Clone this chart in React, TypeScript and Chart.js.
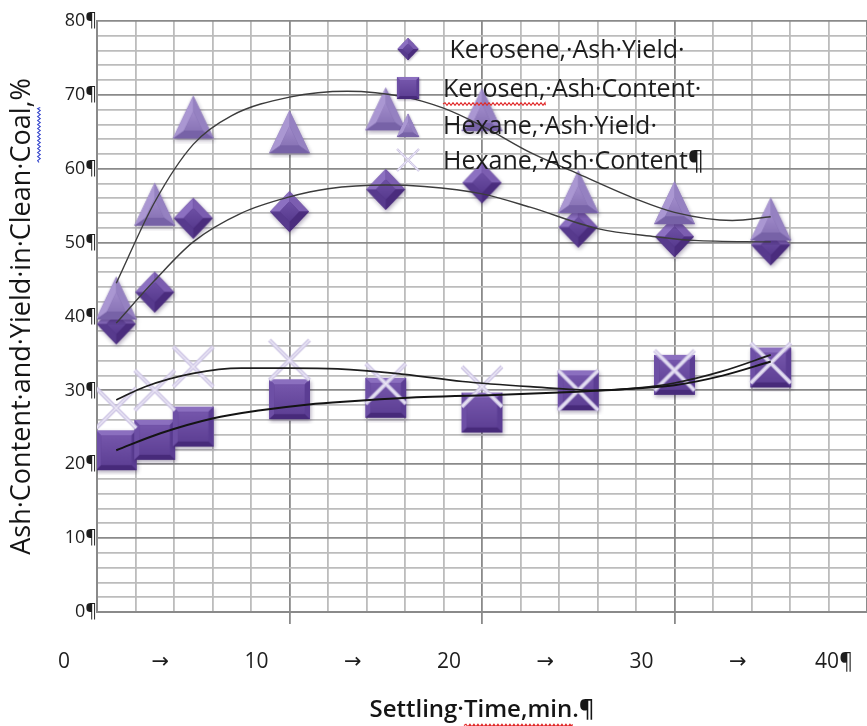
import React, { useEffect, useRef } from 'react';
import { Chart, registerables } from 'chart.js';

Chart.register(...registerables);

// ---- data ----
const settlingTime = [1, 3, 5, 10, 15, 20, 25, 30, 35];
const keroseneAshYield = [39, 43.3, 53.3, 54.2, 57.2, 58.1, 52.1, 50.8, 49.7];
const kerosenAshContent = [21.9, 23.3, 25.1, 28.8, 29, 27, 30, 32.1, 33.1];
const hexaneAshYield = [42.5, 55.2, 67, 65, 68.1, 68, 56.9, 55.4, 53.2];
const hexaneAshContent = [27.6, 30, 33.2, 34.1, 30.9, 30.5, 30, 32.7, 33.7];

// trend lines
const keroseneYieldTrendX = [1, 3, 5, 7.5, 10, 12, 15, 17, 20, 22.5, 26, 29, 31, 35];
const keroseneYieldTrendY = [39.1, 44.9, 50.1, 54, 56.2, 57.3, 57.8, 57.6, 56.6, 54.8, 51.9, 50.8, 50.3, 50.1];
const hexaneYieldTrendX = [1, 3, 5, 7, 10, 13, 16, 18, 20, 22.5, 25, 28, 30, 33, 35];
const hexaneYieldTrendY = [44.5, 55.5, 63.3, 67.2, 69.7, 70.5, 69.7, 68.2, 65.8, 62.2, 59.3, 55.9, 54.1, 53, 53.5];
const hexaneContentTrendX = [1, 2.5, 5, 7.5, 10, 12.5, 15.5, 19, 22.5, 26, 28, 30, 32.5, 35];
const hexaneContentTrendY = [28.7, 30.5, 32.3, 33, 33, 32.9, 32.3, 31.2, 30.5, 30, 30.3, 31, 32.6, 34.8];
const kerosenContentTrendX = [1, 3.3, 6, 8.5, 11, 13, 17, 21, 24, 27.5, 30, 32.5, 35];
const kerosenContentTrendY = [21.9, 24.2, 26.2, 27.3, 28.1, 28.5, 29.1, 29.4, 29.7, 30.2, 30.7, 32, 33.9];

const seriesLabels = [
  ' Kerosene,·Ash·Yield·',
  'Kerosen,·Ash·Content·',
  'Hexane,·Ash·Yield·',
  'Hexane,·Ash·Content¶',
];
const xTickValues = [0, 5, 10, 15, 20, 25, 30, 35, 40];
const xTickLabels = ['0', '→', '10', '→', '20', '→', '30', '→', '40¶'];
const yTickValues = [0, 10, 20, 30, 40, 50, 60, 70, 80];
const yTickLabels = ['0¶', '10¶', '20¶', '30¶', '40¶', '50¶', '60¶', '70¶', '80¶'];
const xAxisTitle = 'Settling·Time,min.¶';
const yAxisTitle = 'Ash·Content·and·Yield·in·Clean·Coal,%';

const FONT = "'Open Sans', 'DejaVu Sans', sans-serif";
const LEGEND_SIZE = 25;
const XTITLE_SIZE = 24;
const YTITLE_SIZE = 27;
const YTITLE_PAD = 6;

function polyPath(g: CanvasRenderingContext2D, pts: number[][]) {
  g.beginPath();
  pts.forEach(([x, y], i) => (i ? g.lineTo(x, y) : g.moveTo(x, y)));
  g.closePath();
}

function createMarker(kind: string, w: number, h: number): HTMLCanvasElement {
  const pad = 5;
  const c = document.createElement('canvas');
  c.width = Math.ceil(w + pad * 2);
  c.height = Math.ceil(h + pad * 2);
  const g = c.getContext('2d') as CanvasRenderingContext2D;
  const cx = c.width / 2;
  const cy = c.height / 2;
  if (kind === 'cross') {
    const dx = w / 2;
    const dy = h / 2;
    const stroke = (color: string, lw: number) => {
      g.strokeStyle = color;
      g.lineWidth = lw;
      g.beginPath();
      g.moveTo(cx - dx, cy - dy);
      g.lineTo(cx + dx, cy + dy);
      g.moveTo(cx + dx, cy - dy);
      g.lineTo(cx - dx, cy + dy);
      g.stroke();
    };
    stroke('#cdc4e4', 4);
    stroke('#ece8f6', 1.4);
    return c;
  }
  let pts: number[][] = [];
  let centroid: number[] = [cx, cy];
  let k = 0.5;
  let facets: string[] = [];
  let faceTop = '';
  let faceBottom = '';
  if (kind === 'diamond') {
    pts = [[cx, cy - h / 2], [cx + w / 2, cy], [cx, cy + h / 2], [cx - w / 2, cy]];
    k = 0.5;
    facets = ['#7b5db0', '#4a2c7d', '#573a8d', '#8c70c1'];
    faceTop = '#6e50a5';
    faceBottom = '#573a8e';
  } else if (kind === 'square') {
    pts = [[cx - w / 2, cy - h / 2], [cx + w / 2, cy - h / 2], [cx + w / 2, cy + h / 2], [cx - w / 2, cy + h / 2]];
    k = 0.74;
    facets = ['#8b6fbf', '#5b3d93', '#472a7a', '#6d4fa5'];
    faceTop = '#7556ab';
    faceBottom = '#5e4095';
  } else {
    pts = [[cx, cy - h / 2], [cx + w / 2, cy + h / 2], [cx - w / 2, cy + h / 2]];
    centroid = [cx, cy + h / 6];
    k = 0.45;
    facets = ['#9581c1', '#7762a7', '#aa97d2'];
    faceTop = '#a18ccb';
    faceBottom = '#8a75b7';
  }
  g.save();
  g.shadowColor = 'rgba(30,10,60,0.35)';
  g.shadowBlur = 4;
  g.shadowOffsetX = 1;
  g.shadowOffsetY = 2;
  polyPath(g, pts);
  g.fillStyle = facets[1];
  g.fill();
  g.restore();
  const inner = pts.map(([x, y]) => [centroid[0] + (x - centroid[0]) * k, centroid[1] + (y - centroid[1]) * k]);
  for (let i = 0; i < pts.length; i++) {
    const j = (i + 1) % pts.length;
    polyPath(g, [pts[i], pts[j], inner[j], inner[i]]);
    g.fillStyle = facets[i];
    g.fill();
  }
  const ys = inner.map((p) => p[1]);
  const grad = g.createLinearGradient(0, Math.min(...ys), 0, Math.max(...ys));
  grad.addColorStop(0, faceTop);
  grad.addColorStop(1, faceBottom);
  polyPath(g, inner);
  g.fillStyle = grad;
  g.fill();
  return c;
}

function wavy(ctx: CanvasRenderingContext2D, x0: number, x1: number, y: number, color: string) {
  ctx.save();
  ctx.strokeStyle = color;
  ctx.lineWidth = 1.1;
  ctx.beginPath();
  ctx.moveTo(x0, y);
  let up = true;
  for (let x = x0; x < x1; x += 2) {
    ctx.lineTo(Math.min(x + 2, x1), y + (up ? -1.3 : 1.3));
    up = !up;
  }
  ctx.stroke();
  ctx.restore();
}

const insideLegend = {
  id: 'insideLegend',
  afterDraw(chart: any) {
    const ctx: CanvasRenderingContext2D = chart.ctx;
    const area = chart.chartArea;
    const items = chart.data.datasets.filter((d: any) => d.legendMarker);
    items.sort((a: any, b: any) => a.legendIndex - b.legendIndex);
    const markerX = area.left + 311;
    const textX = area.left + 346;
    const rows = [28, 67, 104, 139];
    ctx.save();
    ctx.font = `${LEGEND_SIZE}px ${FONT}`;
    ctx.fillStyle = '#1c1c1c';
    ctx.textBaseline = 'middle';
    ctx.textAlign = 'left';
    items.forEach((d: any, i: number) => {
      const y = area.top + rows[i];
      const m: HTMLCanvasElement = d.legendMarker;
      const s = 0.55;
      ctx.drawImage(m, markerX - (m.width * s) / 2, y - (m.height * s) / 2, m.width * s, m.height * s);
      ctx.fillText(d.label, textX, y + 2);
      if (i === 1) {
        const wdt = ctx.measureText('Kerosen,').width;
        wavy(ctx, textX, textX + wdt, y + 16, '#e02828');
      }
    });
    // spell-check marks under the axis titles
    const xs = chart.scales.x;
    ctx.font = `600 ${XTITLE_SIZE}px ${FONT}`;
    const fullX = ctx.measureText(xAxisTitle).width;
    const startX = (xs.left + xs.right) / 2 - fullX / 2;
    const a = ctx.measureText('Settling·').width;
    const b = ctx.measureText('Settling·Time,min').width;
    const tY = xs.bottom - 1 - (XTITLE_SIZE * 1.2) / 2;
    wavy(ctx, startX + a, startX + b, tY + XTITLE_SIZE * 0.62, '#e02828');
    const ysScale = chart.scales.y;
    ctx.font = `${YTITLE_SIZE}px ${FONT}`;
    const fullY = ctx.measureText(yAxisTitle).width;
    const pre = ctx.measureText('Ash·Content·and·Yield·in·Clean·').width;
    const upto = ctx.measureText('Ash·Content·and·Yield·in·Clean·Coal').width;
    ctx.translate(ysScale.left + YTITLE_PAD + (YTITLE_SIZE * 1.2) / 2, (area.top + area.bottom) / 2);
    ctx.rotate(-Math.PI / 2);
    wavy(ctx, -fullY / 2 + pre, -fullY / 2 + upto, YTITLE_SIZE * 0.62, '#3344cc');
    ctx.restore();
  },
};

function pairs(xs: number[], ys: number[]) {
  return xs.map((x, i) => ({ x, y: ys[i] }));
}

export default function App() {
  const ref = useRef<HTMLCanvasElement>(null);

  useEffect(() => {
    const canvas = ref.current;
    if (!canvas) return;
    const diamond = createMarker('diamond', 39, 41);
    const square = createMarker('square', 41, 40);
    const triangle = createMarker('triangle', 41, 43);
    const cross = createMarker('cross', 40, 40);

    const markerSet = (label: string, ys: number[], style: HTMLCanvasElement, order: number, legendIndex: number) => ({
      label,
      data: pairs(settlingTime, ys),
      pointStyle: style,
      pointRadius: 20,
      pointHoverRadius: 20,
      showLine: false,
      order,
      legendMarker: style,
      legendIndex,
    });
    const trend = (xs: number[], ys: number[], color: string, width: number) => ({
      type: 'line',
      label: '',
      data: pairs(xs, ys),
      borderColor: color,
      borderWidth: width,
      pointRadius: 0,
      pointHoverRadius: 0,
      fill: false,
      cubicInterpolationMode: 'monotone',
      order: 0,
    });

    const gridColor = (c: any) => {
      const v = c.tick ? c.tick.value : 0;
      if (v % 10 === 0) return '#8a8a8a';
      if (v % 2 === 0) return '#bcbcbc';
      return 'rgba(0,0,0,0)';
    };

    const chart = new Chart(canvas, {
      type: 'scatter',
      data: {
        datasets: [
          markerSet(seriesLabels[0], keroseneAshYield, diamond, 4, 0),
          markerSet(seriesLabels[1], kerosenAshContent, square, 3, 1),
          markerSet(seriesLabels[2], hexaneAshYield, triangle, 2, 2),
          markerSet(seriesLabels[3], hexaneAshContent, cross, 1, 3),
          trend(keroseneYieldTrendX, keroseneYieldTrendY, '#3c3c3c', 1.4),
          trend(kerosenContentTrendX, kerosenContentTrendY, '#141414', 2),
          trend(hexaneYieldTrendX, hexaneYieldTrendY, '#3c3c3c', 1.4),
          trend(hexaneContentTrendX, hexaneContentTrendY, '#1e1e1e', 1.7),
        ] as any,
      },
      options: {
        animation: false,
        responsive: true,
        maintainAspectRatio: false,
        layout: { autoPadding: false, padding: { top: 21, left: 0, right: 0, bottom: 0 } },
        plugins: {
          legend: { display: false },
          tooltip: { enabled: false },
        },
        scales: {
          x: {
            type: 'linear',
            min: 0,
            max: 40,
            afterFit: (s: any) => {
              s.height = 114;
              s.paddingLeft = 0;
              s.paddingRight = 0;
            },
            ticks: {
              stepSize: 1,
              autoSkip: false,
              maxRotation: 0,
              labelOffset: -33,
              padding: 25,
              color: '#1e1e1e',
              font: { family: FONT, size: 21 },
              callback: (v: any) => {
                const i = xTickValues.indexOf(Number(v));
                return i >= 0 ? xTickLabels[i] : '';
              },
            },
            grid: {
              color: gridColor,
              lineWidth: 1.8,
              drawTicks: true,
              tickLength: 12,
              tickColor: (c: any) => {
                const v = c.tick ? c.tick.value : 0;
                return v % 10 === 0 && v > 0 && v < 40 ? '#8a8a8a' : 'rgba(0,0,0,0)';
              },
            },
            border: { display: true, color: '#8a8a8a', width: 2 },
            title: {
              display: true,
              text: xAxisTitle,
              color: '#151515',
              font: { family: FONT, size: XTITLE_SIZE, weight: '600' },
              padding: { top: 0, bottom: 1 },
            },
          },
          y: {
            type: 'linear',
            min: 0,
            max: 80,
            afterFit: (s: any) => {
              s.width = 97;
            },
            ticks: {
              stepSize: 2,
              autoSkip: false,
              padding: 0,
              color: '#1e1e1e',
              font: { family: FONT, size: 18 },
              callback: (v: any) => {
                const i = yTickValues.indexOf(Number(v));
                return i >= 0 ? yTickLabels[i] : '';
              },
            },
            grid: {
              color: gridColor,
              lineWidth: 1.8,
              drawTicks: false,
            },
            border: { display: true, color: '#8a8a8a', width: 2 },
            title: {
              display: true,
              text: yAxisTitle,
              color: '#151515',
              font: { family: FONT, size: YTITLE_SIZE },
              padding: { top: YTITLE_PAD, bottom: 0 },
            },
          },
        },
      },
      plugins: [insideLegend],
    } as any);

    return () => chart.destroy();
  }, []);

  return (
    <div style={{ position: 'absolute', left: 0, top: 0, width: 867, height: 726, background: '#ffffff' }}>
      <canvas ref={ref} />
    </div>
  );
}
